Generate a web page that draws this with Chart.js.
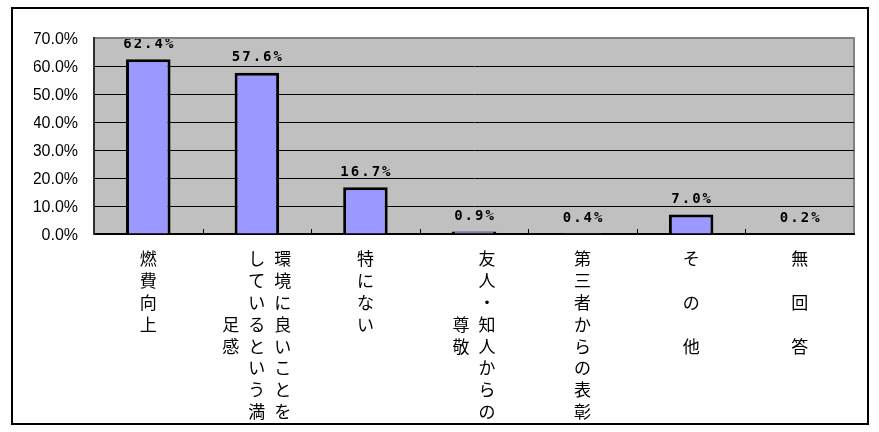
<!DOCTYPE html>
<html>
<head>
<meta charset="utf-8">
<script src="https://cdn.jsdelivr.net/npm/chart.js@4.4.0/dist/chart.umd.min.js"></script>
<style>
body{margin:0;background:#fff;}
#frame{position:absolute;left:11px;top:7px;width:858px;height:418px;border:2px solid #000;box-sizing:border-box;}
#c{position:absolute;left:0;top:0;}
</style>
</head>
<body>
<div id="frame"></div>
<canvas id="c" width="879" height="432"></canvas>
<script>
// chart data
const categories = ['燃費向上','環境に良いことをしているという満足感','特にない','友人・知人からの尊敬','第三者からの表彰','そ　の　他','無　回　答'];
const values = [62.4, 57.6, 16.7, 0.9, 0.4, 7.0, 0.2];
const yTicks = [0, 10, 20, 30, 40, 50, 60, 70];
const charsPerColumn = 8; // vertical label wraps into a new column after this many chars

const colGap = 26, lineStep = 21.8;

const plotDeco = {
  id: 'plotDeco',
  beforeDraw(chart){
    const {ctx, chartArea:a, scales:{x, y}} = chart;
    ctx.save();
    ctx.fillStyle = '#c0c0c0';
    ctx.fillRect(a.left, a.top, a.right-a.left, a.bottom-a.top);
    ctx.strokeStyle = '#808080'; ctx.lineWidth = 2;
    ctx.strokeRect(a.left, a.top, a.right-a.left, a.bottom-a.top);
    // value labels (drawn under the grid lines, like the original)
    ctx.fillStyle = '#000';
    ctx.font = 'bold 14px "DejaVu Sans Mono"';
    ctx.letterSpacing = '2px';
    ctx.textAlign = 'center'; ctx.textBaseline = 'bottom';
    values.forEach((v,i)=>{
      ctx.fillText(v.toFixed(1)+'%', x.getPixelForValue(i)+1, y.getPixelForValue(v)-8);
    });
    ctx.restore();
  },
  afterDraw(chart){
    const {ctx, chartArea:a, scales:{x}} = chart;
    ctx.save();
    // small inward ticks between categories
    ctx.strokeStyle = '#000'; ctx.lineWidth = 1;
    for(let i=0;i<categories.length-1;i++){
      const bx = Math.round((x.getPixelForValue(i)+x.getPixelForValue(i+1))/2)+0.5;
      ctx.beginPath(); ctx.moveTo(bx, a.bottom); ctx.lineTo(bx, a.bottom-5); ctx.stroke();
    }
    // vertical category labels, columns right to left
    ctx.fillStyle = '#000';
    ctx.font = '17px "Noto Sans CJK JP"';
    ctx.textAlign = 'center'; ctx.textBaseline = 'middle';
    const top = a.bottom + 14;
    categories.forEach((label,i)=>{
      const cols = [];
      for(let k=0;k<label.length;k+=charsPerColumn) cols.push([...label.slice(k,k+charsPerColumn)]);
      const rows = Math.max(...cols.map(c=>c.length));
      const cx = x.getPixelForValue(i);
      cols.forEach((col,j)=>{
        const colX = cx + ((cols.length-1)/2 - j)*colGap;
        const y0 = top + (rows-col.length)*lineStep/2;
        col.forEach((ch,r)=>{ if(ch!=='　') ctx.fillText(ch, colX, y0 + r*lineStep + lineStep/2); });
      });
    });
    ctx.restore();
  }
};

new Chart(document.getElementById('c'), {
  type: 'bar',
  data: {
    labels: categories,
    datasets: [{data: values, backgroundColor: '#9999ff', borderColor: '#000', borderWidth: 3, barPercentage: 0.41, categoryPercentage: 1}]
  },
  options: {
    responsive: false,
    animation: false,
    layout: {padding: {left: 34, top: 38, right: 25, bottom: 0}},
    plugins: {legend: {display: false}, tooltip: {enabled: false}},
    scales: {
      x: {
        grid: {display: false, drawTicks: false},
        border: {color: '#000', width: 2},
        ticks: {display: false},
        afterFit(s){ s.height = 198; }
      },
      y: {
        min: 0, max: 70,
        afterBuildTicks(s){ s.ticks = yTicks.map(v=>({value: v})); },
        grid: {
          color: c => c.tick && c.tick.value===70 ? '#808080' : '#000',
          lineWidth: c => c.tick && c.tick.value===70 ? 2 : 1,
          drawTicks: false
        },
        border: {color: '#303030', width: 2},
        ticks: {padding: 16, color: '#000', labelOffset: 2, font: {family: 'Liberation Sans', size: 16}, callback: v => v.toFixed(1)+'%'},
        afterFit(s){ s.width = 60; }
      }
    }
  },
  plugins: [plotDeco]
});
</script>
</body>
</html>
